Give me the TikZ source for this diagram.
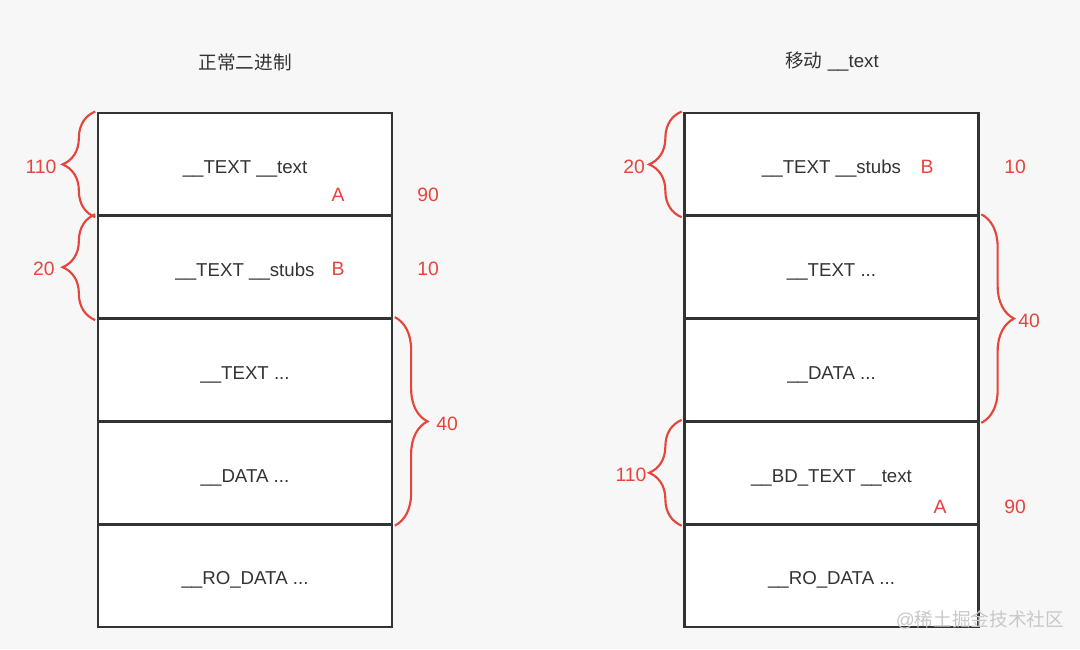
\documentclass[tikz,border=0pt]{standalone}
\usepackage{fontspec}
\setmainfont{Liberation Sans}
\newfontfamily\cjk{Noto Sans CJK SC}
\usetikzlibrary{decorations.pathreplacing}
\definecolor{bg}{HTML}{F7F7F7}
\definecolor{ink}{HTML}{333333}
\definecolor{mark}{HTML}{E5453B}
\definecolor{wm}{HTML}{C8C8C8}
\begin{document}
\begin{tikzpicture}[x=0.75pt,y=-0.75pt,
  row/.style={draw=ink, fill=white, line width=2.2pt, minimum width=220.5pt,
    minimum height=77.1pt, inner sep=0pt, font=\fontsize{14}{16}\selectfont, text=ink,
    text height=14pt, text depth=0pt},
  num/.style={text=mark, font=\fontsize{14.5}{16}\selectfont, inner sep=0pt},
  brc/.style={draw=mark, line width=1.6pt, decorate,
    decoration={brace, amplitude=24.5pt}},
  title/.style={text=ink, font=\fontsize{14}{16}\selectfont},
  wmark/.style={text=wm, font=\fontsize{14}{16}\selectfont}]
\fill[bg] (0,0) rectangle (1080,649);
\useasboundingbox (0,0) rectangle (1080,649);

% titles
\node[title] (t1) at (245,62) {\cjk 正常二进制};
\node[title] (t2) at (832,62) {{\cjk 移动} \_\_text};

% left column
\node[row] (L1) at (245,164.4) {\_\_TEXT \_\_text};
\node[row] (L2) at (245,267.2) {\_\_TEXT \_\_stubs};
\node[row] (L3) at (245,370.0) {\_\_TEXT ...};
\node[row] (L4) at (245,472.8) {\_\_DATA ...};
\node[row] (L5) at (245,575.6) {\_\_RO\_DATA ...};

% right column
\node[row] (R1) at (831.5,164.4) {\_\_TEXT \_\_stubs};
\node[row] (R2) at (831.5,267.2) {\_\_TEXT ...};
\node[row] (R3) at (831.5,370.0) {\_\_DATA ...};
\node[row] (R4) at (831.5,472.8) {\_\_BD\_TEXT \_\_text};
\node[row] (R5) at (831.5,575.6) {\_\_RO\_DATA ...};

% braces left column
\draw[brc] ([xshift=-1pt]L1.south west) -- ([xshift=-1pt]L1.north west);
\draw[brc] ([xshift=-1pt]L2.south west) -- ([xshift=-1pt]L2.north west);
\draw[brc] ([xshift=1pt]L3.north east) -- ([xshift=1pt]L4.south east);

% braces right column
\draw[brc] ([xshift=-1pt]R1.south west) -- ([xshift=-1pt]R1.north west);
\draw[brc] ([xshift=1pt]R2.north east) -- ([xshift=1pt]R3.south east);
\draw[brc] ([xshift=-1pt]R4.south west) -- ([xshift=-1pt]R4.north west);

% labels left
\node[num] (l110) at (41,167) {110};
\node[num] (l20) at (44,269) {20};
\node[num] (l40) at (447,424) {40};
\node[num] (lA) at (338,195) {A};
\node[num] (l90) at (428,195) {90};
\node[num] (lB) at (338,269) {B};
\node[num] (l10) at (428,269) {10};

% labels right
\node[num] (r20) at (634,167) {20};
\node[num] (rB) at (927,167) {B};
\node[num] (r10) at (1015,167) {10};
\node[num] (r40) at (1029,321) {40};
\node[num] (r110) at (631,475) {110};
\node[num] (rA) at (940,507) {A};
\node[num] (r90) at (1015,507) {90};

% watermark
\node[wmark] (wm) at (980,620) {@{\cjk 稀土掘金技术社区}};
\end{tikzpicture}
\end{document}
